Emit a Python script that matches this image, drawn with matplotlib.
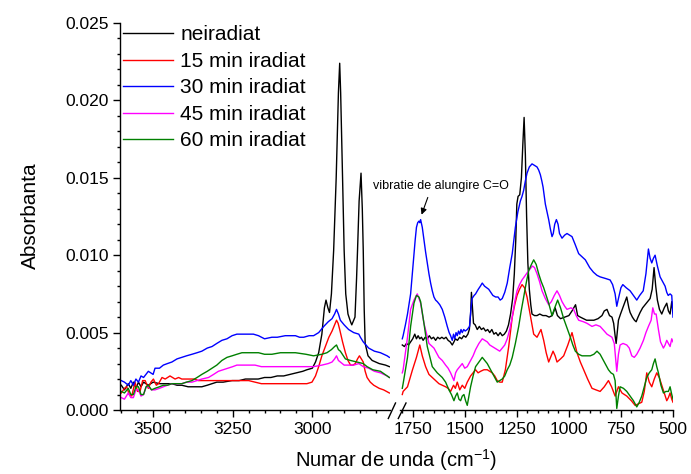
import matplotlib
matplotlib.use("Agg")
import matplotlib.pyplot as plt
from matplotlib.lines import Line2D
from matplotlib.ticker import MultipleLocator, FormatStrFormatter

plt.rcParams['font.family'] = ['Liberation Sans', 'DejaVu Sans']
plt.rcParams['mathtext.fontset'] = 'custom'
plt.rcParams['mathtext.rm'] = 'Liberation Sans'
plt.rcParams['mathtext.it'] = 'Liberation Sans:italic'

# ---- series labels / colours ----
labels = ["neiradiat", "15 min iradiat", "30 min iradiat", "45 min iradiat", "60 min iradiat"]
colors = ["black", "#ff0000", "#0000ff", "#ff00ff", "#008000"]

# ---- high wavenumber region (3600 - 2750 cm-1) ----
wn_hi_black = [3600, 3590, 3578, 3570, 3562, 3554, 3546, 3538, 3530, 3515, 3500, 3480, 3460, 3441,
               3425, 3410, 3390, 3370, 3347, 3330, 3315, 3300, 3280, 3252, 3230, 3210, 3190, 3170,
               3150, 3130, 3110, 3090, 3070, 3050, 3030, 3017, 3000, 2990, 2980, 2970, 2962, 2957,
               2951, 2946, 2940, 2933, 2925, 2918, 2914, 2911, 2905, 2900, 2895, 2888, 2880, 2876,
               2866, 2861, 2858, 2853, 2847, 2843, 2840, 2837, 2834, 2825, 2812, 2790, 2770, 2758]
a_hi_black = [0.0016, 0.0013, 0.0017, 0.0014, 0.0018, 0.0014, 0.0018, 0.0015, 0.0018, 0.0016, 0.0018,
              0.0017, 0.0017, 0.0017, 0.0016, 0.0016, 0.0015, 0.0015, 0.0015, 0.0016, 0.0017, 0.0018,
              0.0018, 0.0019, 0.0019, 0.0020, 0.0020, 0.0020, 0.0021, 0.0021, 0.0022, 0.0022, 0.0023,
              0.0024, 0.0025, 0.0026, 0.0027, 0.0031, 0.0037, 0.0049, 0.0066, 0.0071, 0.0066, 0.0063,
              0.0075, 0.0103, 0.0150, 0.0205, 0.0224, 0.0205, 0.0150, 0.0103, 0.0075, 0.0062, 0.0057,
              0.0055, 0.0060, 0.0085, 0.0103, 0.0135, 0.0153, 0.0130, 0.0103, 0.0065, 0.0043, 0.0035,
              0.0032, 0.0030, 0.0029, 0.0028]

wn_hi_red = [3600, 3590, 3583, 3575, 3567, 3557, 3549, 3541, 3533, 3525, 3515, 3507, 3499, 3490,
             3483, 3472, 3462, 3447, 3431, 3420, 3410, 3389, 3370, 3358, 3326, 3295, 3270, 3242,
             3220, 3200, 3180, 3160, 3148, 3120, 3095, 3070, 3040, 3017, 3001, 2990, 2980, 2970,
             2959, 2948, 2938, 2930, 2924, 2919, 2914, 2905, 2896, 2888, 2880, 2872, 2865, 2858,
             2852, 2846, 2840, 2834, 2828, 2818, 2807, 2790, 2776, 2758]
a_hi_red = [0.0011, 0.0014, 0.0015, 0.0010, 0.0009, 0.0018, 0.0012, 0.0012, 0.0019, 0.0019, 0.0014,
            0.0018, 0.0020, 0.0016, 0.0017, 0.0021, 0.0020, 0.0022, 0.0020, 0.0021, 0.0020, 0.0020,
            0.0020, 0.0019, 0.0019, 0.0019, 0.0019, 0.0019, 0.0019, 0.0019, 0.0018, 0.0017, 0.0017,
            0.0017, 0.0017, 0.0017, 0.0017, 0.0017, 0.0018, 0.0022, 0.0028, 0.0035, 0.0041, 0.0047,
            0.0051, 0.0055, 0.0058, 0.0056, 0.0052, 0.0044, 0.0037, 0.0032, 0.0029, 0.0029, 0.0030,
            0.0033, 0.0035, 0.0033, 0.0031, 0.0025, 0.0021, 0.0018, 0.0016, 0.0014, 0.0013, 0.0011]

wn_hi_blue = [3600, 3590, 3578, 3570, 3562, 3554, 3546, 3538, 3530, 3515, 3500, 3494, 3480, 3468,
              3455, 3441, 3425, 3410, 3395, 3378, 3362, 3347, 3330, 3315, 3300, 3284, 3268, 3252,
              3237, 3221, 3200, 3185, 3169, 3150, 3127, 3110, 3085, 3070, 3053, 3040, 3027, 3010,
              2996, 2980, 2964, 2950, 2938, 2930, 2924, 2918, 2912, 2900, 2886, 2870, 2854, 2849,
              2840, 2823, 2805, 2786, 2765, 2758]
a_hi_blue = [0.0019, 0.0018, 0.0016, 0.0019, 0.0016, 0.0020, 0.0018, 0.0022, 0.0021, 0.0025, 0.0023,
             0.0027, 0.0027, 0.0029, 0.0030, 0.0031, 0.0033, 0.0034, 0.0035, 0.0036, 0.0037, 0.0038,
             0.0040, 0.0041, 0.0043, 0.0045, 0.0046, 0.0048, 0.0049, 0.0049, 0.0049, 0.0049, 0.0048,
             0.0046, 0.0047, 0.0047, 0.0048, 0.0048, 0.0048, 0.0047, 0.0047, 0.0048, 0.0048, 0.0050,
             0.0054, 0.0057, 0.0059, 0.0062, 0.0065, 0.0062, 0.0058, 0.0055, 0.0052, 0.0050, 0.0049,
             0.0047, 0.0044, 0.0040, 0.0038, 0.0037, 0.0035, 0.0034]

wn_hi_mag = [3600, 3590, 3578, 3570, 3562, 3554, 3546, 3538, 3530, 3522, 3515, 3505, 3494, 3480,
             3468, 3455, 3441, 3425, 3410, 3395, 3378, 3362, 3347, 3326, 3310, 3295, 3280, 3265,
             3250, 3237, 3220, 3200, 3180, 3160, 3140, 3120, 3100, 3085, 3053, 3020, 2996, 2970,
             2950, 2938, 2930, 2924, 2918, 2912, 2900, 2886, 2870, 2854, 2840, 2823, 2805, 2786,
             2765, 2758]
a_hi_mag = [0.0008, 0.0007, 0.0011, 0.0008, 0.0008, 0.0013, 0.0013, 0.0009, 0.0010, 0.0015, 0.0015,
            0.0013, 0.0013, 0.0014, 0.0015, 0.0016, 0.0017, 0.0017, 0.0017, 0.0018, 0.0018, 0.0019,
            0.0020, 0.0021, 0.0023, 0.0025, 0.0026, 0.0027, 0.0028, 0.0029, 0.0029, 0.0029, 0.0029,
            0.0028, 0.0028, 0.0028, 0.0028, 0.0028, 0.0028, 0.0028, 0.0028, 0.0029, 0.0030, 0.0031,
            0.0033, 0.0035, 0.0032, 0.0031, 0.0029, 0.0029, 0.0029, 0.0030, 0.0028, 0.0027, 0.0025,
            0.0024, 0.0022, 0.0021]

wn_hi_green = [3600, 3590, 3578, 3570, 3562, 3554, 3546, 3538, 3530, 3522, 3515, 3505, 3494, 3480,
               3468, 3455, 3441, 3425, 3410, 3395, 3378, 3362, 3347, 3330, 3315, 3300, 3284, 3268,
               3252, 3237, 3221, 3200, 3169, 3150, 3127, 3100, 3085, 3053, 3020, 2996, 2970, 2954,
               2940, 2930, 2924, 2918, 2912, 2896, 2880, 2860, 2840, 2828, 2810, 2786, 2765, 2758]
a_hi_green = [0.0012, 0.0011, 0.0014, 0.0010, 0.0010, 0.0015, 0.0015, 0.0010, 0.0010, 0.0015, 0.0016,
              0.0013, 0.0014, 0.0015, 0.0016, 0.0016, 0.0017, 0.0017, 0.0017, 0.0018, 0.0019, 0.0021,
              0.0023, 0.0025, 0.0027, 0.0029, 0.0032, 0.0034, 0.0035, 0.0036, 0.0037, 0.0037, 0.0037,
              0.0036, 0.0036, 0.0037, 0.0037, 0.0037, 0.0036, 0.0035, 0.0036, 0.0037, 0.0039, 0.0041,
              0.0042, 0.0039, 0.0038, 0.0033, 0.0032, 0.0031, 0.0030, 0.0028, 0.0026, 0.0025, 0.0022,
              0.0021]

# ---- fingerprint region (1800 - 500 cm-1) ----
wn_lo_black = [1800, 1790, 1780, 1770, 1760, 1750, 1740, 1732, 1724, 1716, 1708, 1700, 1690, 1680,
               1670, 1660, 1650, 1640, 1630, 1620, 1610, 1600, 1590, 1580, 1570, 1560, 1552, 1545,
               1535, 1525, 1515, 1505, 1495, 1485, 1478, 1472, 1468, 1464, 1458, 1450, 1440, 1430,
               1420, 1410, 1400, 1390, 1380, 1370, 1360, 1350, 1340, 1330, 1320, 1310, 1300, 1290,
               1280, 1270, 1262, 1255, 1250, 1244, 1236, 1228, 1221, 1215, 1209, 1203, 1197, 1190,
               1183, 1177, 1165, 1153, 1140, 1125, 1110, 1095, 1080, 1066, 1055, 1040, 1020, 1000,
               985, 968, 958, 945, 930, 915, 900, 880, 860, 841, 830, 817, 805, 793, 785, 778, 773,
               768, 762, 752, 741, 730, 722, 712, 706, 695, 685, 677, 668, 658, 646, 634, 622, 610,
               600, 591, 583, 575, 565, 554, 542, 530, 522, 514, 506, 500]
a_lo_black = [0.0042, 0.0041, 0.0043, 0.0042, 0.0044, 0.0046, 0.0049, 0.0046, 0.0048, 0.0046, 0.0047,
              0.0045, 0.0047, 0.0046, 0.0048, 0.0046, 0.0047, 0.0045, 0.0047, 0.0046, 0.0047, 0.0046,
              0.0047, 0.0045, 0.0044, 0.0042, 0.0044, 0.0046, 0.0045, 0.0047, 0.0046, 0.0048, 0.0047,
              0.0049, 0.0052, 0.0062, 0.0076, 0.0068, 0.0056, 0.0055, 0.0052, 0.0054, 0.0052, 0.0053,
              0.0051, 0.0052, 0.0050, 0.0052, 0.0049, 0.0050, 0.0048, 0.0050, 0.0048, 0.0049, 0.0051,
              0.0055, 0.0062, 0.0072, 0.0088, 0.0110, 0.0133, 0.0138, 0.0139, 0.0150, 0.0172, 0.0189,
              0.0165, 0.0125, 0.0095, 0.0078, 0.0068, 0.0062, 0.0061, 0.0061, 0.0062, 0.0061, 0.0061,
              0.0060, 0.0061, 0.0066, 0.0061, 0.0059, 0.0060, 0.0061, 0.0064, 0.0068, 0.0061, 0.0060,
              0.0059, 0.0058, 0.0058, 0.0058, 0.0059, 0.0061, 0.0064, 0.0065, 0.0061, 0.0060, 0.0056,
              0.0048, 0.0043, 0.0050, 0.0058, 0.0062, 0.0066, 0.0070, 0.0073, 0.0066, 0.0063, 0.0060,
              0.0058, 0.0057, 0.0060, 0.0063, 0.0066, 0.0068, 0.0070, 0.0072, 0.0078, 0.0092, 0.0080,
              0.0071, 0.0065, 0.0062, 0.0066, 0.0069, 0.0064, 0.0062, 0.0070, 0.0063]

wn_lo_red = [1800, 1796, 1775, 1751, 1732, 1716, 1704, 1688, 1672, 1648, 1624, 1608, 1592, 1580,
             1568, 1554, 1545, 1536, 1524, 1512, 1500, 1488, 1472, 1460, 1448, 1436, 1424, 1408,
             1392, 1380, 1368, 1356, 1344, 1332, 1320, 1305, 1289, 1272, 1260, 1249, 1237, 1225,
             1213, 1201, 1185, 1169, 1153, 1134, 1121, 1109, 1097, 1076, 1066, 1057, 1040, 1025,
             1005, 985, 961, 945, 929, 910, 889, 870, 850, 830, 810, 795, 778, 762, 745, 722, 700,
             682, 650, 638, 626, 614, 602, 590, 578, 566, 554, 542, 530, 522, 514, 506, 500]
a_lo_red = [0.0010, 0.0012, 0.0015, 0.0026, 0.0034, 0.0042, 0.0035, 0.0028, 0.0023, 0.0020, 0.0017,
            0.0016, 0.0015, 0.0014, 0.0012, 0.0016, 0.0014, 0.0018, 0.0013, 0.0016, 0.0014, 0.0018,
            0.0022, 0.0024, 0.0026, 0.0024, 0.0025, 0.0026, 0.0026, 0.0025, 0.0024, 0.0022, 0.0019,
            0.0018, 0.0018, 0.0026, 0.0041, 0.0060, 0.0068, 0.0074, 0.0078, 0.0081, 0.0079, 0.0073,
            0.0061, 0.0049, 0.0047, 0.0052, 0.0045, 0.0037, 0.0031, 0.0038, 0.0035, 0.0031, 0.0033,
            0.0035, 0.0042, 0.0050, 0.0037, 0.0031, 0.0026, 0.0020, 0.0014, 0.0013, 0.0012, 0.0015,
            0.0019, 0.0015, 0.0009, 0.0015, 0.0011, 0.0009, 0.0006, 0.0003, 0.0005, 0.0012, 0.0024,
            0.0018, 0.0015, 0.0020, 0.0024, 0.0021, 0.0016, 0.0011, 0.0006, 0.0008, 0.0011, 0.0007,
            0.0005]

wn_lo_blue = [1800, 1796, 1785, 1775, 1768, 1760, 1752, 1744, 1738, 1732, 1726, 1720, 1716, 1712,
              1704, 1696, 1688, 1680, 1672, 1664, 1656, 1648, 1640, 1632, 1620, 1608, 1596, 1584,
              1575, 1568, 1560, 1554, 1548, 1542, 1536, 1530, 1524, 1518, 1512, 1505, 1498, 1488,
              1477, 1470, 1465, 1455, 1448, 1435, 1425, 1416, 1405, 1395, 1385, 1375, 1365, 1352,
              1340, 1330, 1320, 1308, 1296, 1284, 1272, 1264, 1257, 1245, 1233, 1225, 1217, 1209,
              1201, 1190, 1177, 1165, 1153, 1145, 1137, 1130, 1124, 1118, 1113, 1105, 1097, 1089,
              1081, 1075, 1068, 1060, 1052, 1045, 1033, 1020, 1009, 997, 985, 970, 953, 937, 921,
              900, 882, 865, 850, 825, 802, 790, 778, 770, 762, 750, 741, 725, 706, 690, 674, 660,
              643, 630, 618, 610, 602, 594, 586, 575, 562, 550, 538, 530, 523, 514, 506, 500]
a_lo_blue = [0.0046, 0.0048, 0.0055, 0.0062, 0.0068, 0.0075, 0.0088, 0.0101, 0.0110, 0.0118, 0.0121,
             0.0122, 0.0121, 0.0123, 0.0118, 0.0110, 0.0102, 0.0095, 0.0088, 0.0082, 0.0077, 0.0073,
             0.0071, 0.0070, 0.0068, 0.0065, 0.0060, 0.0054, 0.0050, 0.0048, 0.0045, 0.0049, 0.0046,
             0.0050, 0.0048, 0.0051, 0.0049, 0.0052, 0.0050, 0.0052, 0.0051, 0.0052, 0.0054, 0.0066,
             0.0072, 0.0074, 0.0075, 0.0078, 0.0080, 0.0082, 0.0080, 0.0079, 0.0078, 0.0076, 0.0074,
             0.0073, 0.0073, 0.0071, 0.0072, 0.0076, 0.0082, 0.0092, 0.0101, 0.0110, 0.0118, 0.0128,
             0.0135, 0.0138, 0.0142, 0.0148, 0.0153, 0.0157, 0.0159, 0.0158, 0.0157, 0.0155, 0.0152,
             0.0148, 0.0144, 0.0138, 0.0133, 0.0128, 0.0123, 0.0117, 0.0112, 0.0114, 0.0120, 0.0123,
             0.0120, 0.0114, 0.0111, 0.0113, 0.0114, 0.0113, 0.0112, 0.0107, 0.0101, 0.0099, 0.0097,
             0.0092, 0.0089, 0.0087, 0.0086, 0.0085, 0.0084, 0.0081, 0.0075, 0.0067, 0.0072, 0.0079,
             0.0081, 0.0079, 0.0077, 0.0074, 0.0071, 0.0074, 0.0077, 0.0088, 0.0104, 0.0098, 0.0095,
             0.0098, 0.0100, 0.0093, 0.0086, 0.0083, 0.0080, 0.0076, 0.0074, 0.0075, 0.0074, 0.0060]

wn_lo_mag = [1800, 1796, 1775, 1760, 1744, 1728, 1712, 1696, 1672, 1648, 1624, 1608, 1592, 1580,
             1568, 1552, 1544, 1536, 1524, 1512, 1500, 1488, 1472, 1460, 1448, 1432, 1416, 1404,
             1392, 1380, 1368, 1356, 1344, 1332, 1320, 1308, 1296, 1284, 1272, 1260, 1249, 1237,
             1225, 1209, 1193, 1175, 1165, 1153, 1141, 1129, 1113, 1097, 1084, 1070, 1057, 1045,
             1033, 1020, 1009, 990, 977, 965, 953, 930, 913, 889, 870, 850, 830, 817, 805, 793,
             782, 770, 762, 754, 740, 722, 710, 698, 686, 674, 658, 642, 630, 618, 605, 597, 589,
             581, 570, 560, 546, 538, 530, 522, 514, 506, 500]
a_lo_mag = [0.0024, 0.0026, 0.0047, 0.0065, 0.0071, 0.0075, 0.0069, 0.0056, 0.0043, 0.0040, 0.0034,
            0.0032, 0.0029, 0.0027, 0.0024, 0.0019, 0.0024, 0.0026, 0.0028, 0.0030, 0.0027, 0.0028,
            0.0032, 0.0035, 0.0039, 0.0043, 0.0046, 0.0045, 0.0044, 0.0042, 0.0041, 0.0040, 0.0039,
            0.0038, 0.0040, 0.0042, 0.0046, 0.0052, 0.0060, 0.0070, 0.0077, 0.0081, 0.0084, 0.0087,
            0.0090, 0.0093, 0.0092, 0.0088, 0.0083, 0.0077, 0.0072, 0.0068, 0.0070, 0.0074, 0.0077,
            0.0074, 0.0070, 0.0067, 0.0065, 0.0066, 0.0065, 0.0061, 0.0058, 0.0057, 0.0056, 0.0054,
            0.0055, 0.0054, 0.0051, 0.0049, 0.0048, 0.0047, 0.0043, 0.0025, 0.0036, 0.0042, 0.0043,
            0.0042, 0.0040, 0.0035, 0.0034, 0.0036, 0.0040, 0.0045, 0.0050, 0.0054, 0.0058, 0.0066,
            0.0062, 0.0062, 0.0052, 0.0044, 0.0040, 0.0042, 0.0045, 0.0043, 0.0041, 0.0046, 0.0044]

wn_lo_green = [1800, 1796, 1775, 1760, 1744, 1732, 1720, 1712, 1696, 1680, 1656, 1632, 1608, 1592,
               1576, 1564, 1552, 1544, 1536, 1528, 1520, 1512, 1504, 1496, 1488, 1472, 1460, 1448,
               1432, 1416, 1404, 1392, 1380, 1368, 1356, 1344, 1332, 1320, 1308, 1296, 1284, 1272,
               1257, 1241, 1229, 1217, 1205, 1193, 1180, 1169, 1157, 1145, 1133, 1121, 1109, 1097,
               1081, 1068, 1054, 1040, 1025, 1009, 993, 981, 969, 953, 937, 917, 897, 880, 865, 850,
               834, 822, 810, 798, 786, 778, 770, 762, 754, 738, 722, 706, 690, 674, 662, 650, 638,
               626, 614, 602, 594, 586, 578, 570, 558, 546, 534, 522, 514, 506, 500]
a_lo_green = [0.0014, 0.0017, 0.0034, 0.0054, 0.0069, 0.0074, 0.0073, 0.0070, 0.0056, 0.0041, 0.0028,
              0.0024, 0.0021, 0.0018, 0.0013, 0.0010, 0.0006, 0.0009, 0.0011, 0.0007, 0.0006, 0.0009,
              0.0010, 0.0006, 0.0003, 0.0015, 0.0022, 0.0028, 0.0031, 0.0034, 0.0032, 0.0030, 0.0027,
              0.0024, 0.0021, 0.0018, 0.0019, 0.0020, 0.0022, 0.0026, 0.0029, 0.0034, 0.0043, 0.0054,
              0.0064, 0.0073, 0.0082, 0.0090, 0.0094, 0.0097, 0.0094, 0.0088, 0.0083, 0.0079, 0.0074,
              0.0069, 0.0061, 0.0066, 0.0071, 0.0066, 0.0059, 0.0053, 0.0047, 0.0042, 0.0038, 0.0036,
              0.0035, 0.0035, 0.0035, 0.0036, 0.0038, 0.0036, 0.0032, 0.0029, 0.0026, 0.0024, 0.0023,
              0.0019, 0.0001, 0.0009, 0.0015, 0.0014, 0.0012, 0.0009, 0.0006, 0.0002, 0.0005, 0.0009,
              0.0015, 0.0021, 0.0024, 0.0026, 0.0030, 0.0033, 0.0028, 0.0024, 0.0016, 0.0011, 0.0012,
              0.0012, 0.0015, 0.0010, 0.0007]

hi_data = [(wn_hi_black, a_hi_black), (wn_hi_red, a_hi_red), (wn_hi_blue, a_hi_blue),
           (wn_hi_mag, a_hi_mag), (wn_hi_green, a_hi_green)]
lo_data = [(wn_lo_black, a_lo_black), (wn_lo_red, a_lo_red), (wn_lo_blue, a_lo_blue),
           (wn_lo_mag, a_lo_mag), (wn_lo_green, a_lo_green)]

W, H = 691, 474
fig = plt.figure(figsize=(W / 100, H / 100), dpi=100)

# axes placed in pixel units of the original picture
ax_l = fig.add_axes([120 / W, 1 - 410 / H, 270 / W, 387 / H])
ax_r = fig.add_axes([400 / W, 1 - 410 / H, 273 / W, 387 / H])

handles = []
for (x, y), c, lab in zip(hi_data, colors, labels):
    h, = ax_l.plot(x, y, color=c, lw=1.0, label=lab)
    handles.append(h)
for (x, y), c in zip(lo_data, colors):
    ax_r.plot(x, y, color=c, lw=1.0)

ax_l.set_xlim(3604, 2756)
ax_r.set_xlim(1811, 500)
for ax in (ax_l, ax_r):
    ax.set_ylim(0, 0.025)
    ax.spines['top'].set_visible(False)
    ax.spines['right'].set_visible(False)
    ax.spines['bottom'].set_linewidth(1.0)
    ax.xaxis.set_minor_locator(MultipleLocator(50))
    ax.tick_params(axis='x', which='major', direction='out', length=5, width=1.0,
                   labelsize=12.5, pad=4)
    ax.tick_params(axis='x', which='minor', direction='out', length=2.5, width=1.0)
    ax.patch.set_alpha(0)

ax_l.set_xticks([3500, 3250, 3000])
ax_r.set_xticks([1750, 1500, 1250, 1000, 750, 500])

ax_l.spines['left'].set_linewidth(1.0)
ax_l.yaxis.set_major_locator(MultipleLocator(0.005))
ax_l.yaxis.set_minor_locator(MultipleLocator(0.001))
ax_l.yaxis.set_major_formatter(FormatStrFormatter('%.3f'))
ax_l.tick_params(axis='y', which='major', direction='out', length=5, width=1.0,
                 labelsize=12.5, pad=3)
ax_l.tick_params(axis='y', which='minor', direction='out', length=2.5, width=1.0)

ax_r.spines['left'].set_visible(False)
ax_r.tick_params(axis='y', which='both', left=False, labelleft=False)

# axis break marks
for x0, x1 in [(388.3, 395.5), (398.3, 406.0)]:
    fig.add_artist(Line2D([x0 / W, x1 / W], [1 - 418.5 / H, 1 - 403 / H],
                          color='black', lw=1.0, transform=fig.transFigure))

ax_l.legend(handles=handles, loc='upper left', bbox_to_anchor=(3 / 270, 0.994),
            frameon=False, fontsize=15, handlelength=2.4, handletextpad=0.34,
            labelspacing=0.36, borderpad=0, borderaxespad=0)

# annotation for the C=O band
ax_r.annotate('', xy=(1712, 0.01245), xytext=(1673, 0.0139),
              arrowprops=dict(arrowstyle='-|>', color='black', lw=0.8, mutation_scale=9))
fig.text(373 / W, 1 - 186 / H, 'vibratie de alungire C=O', fontsize=9, ha='left', va='center')

fig.text(30 / W, 1 - 216 / H, 'Absorbanta', rotation=90, fontsize=15, ha='center', va='center')
fig.text(396.5 / W, 1 - 460 / H, 'Numar de unda (cm$^{-1}$)', fontsize=14.5, ha='center',
         va='center')

fig.savefig('out.png', dpi=100)
